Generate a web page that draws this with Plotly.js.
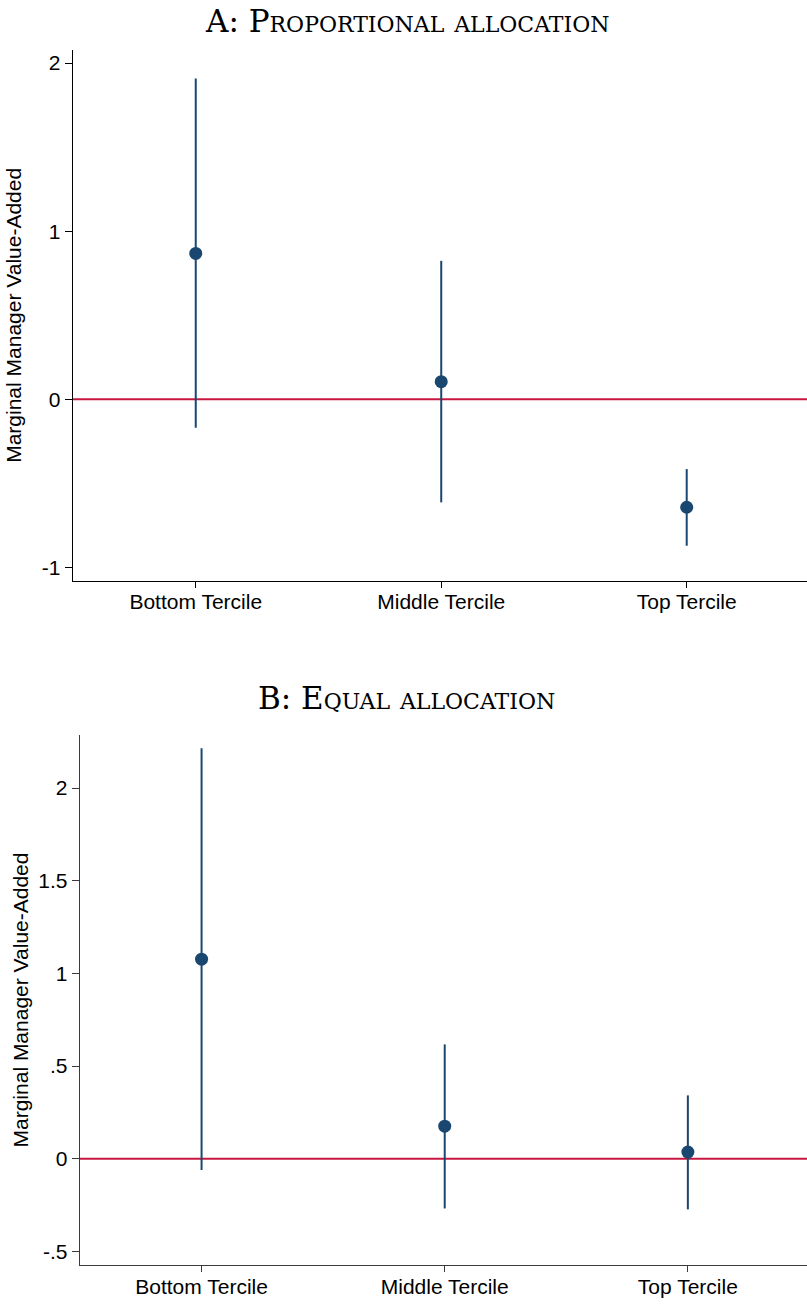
<!DOCTYPE html>
<html>
<head>
<meta charset="utf-8">
<script src="https://cdn.plot.ly/plotly-3.0.1.min.js"></script>
<style>html,body{margin:0;padding:0;background:#fff;}</style>
</head>
<body>
<div id="chart" style="width:807px;height:1305px;"></div>
<script>
// ---- data ----
const categories = ['Bottom Tercile', 'Middle Tercile', 'Top Tercile'];
const propEst = [0.868, 0.105, -0.642];
const propLo  = [-0.169, -0.613, -0.871];
const propHi  = [1.909, 0.824, -0.415];
const eqEst = [1.077, 0.176, 0.036];
const eqLo  = [-0.061, -0.268, -0.273];
const eqHi  = [2.214, 0.617, 0.342];
const propTickVals = [-1, 0, 1, 2];
const propTickText = ['-1', '0', '1', '2'];
const eqTickVals = [-0.5, 0, 0.5, 1, 1.5, 2];
const eqTickText = ['-.5', '0', '.5', '1', '1.5', '2'];
const panelTitles = ['A: Proportional allocation', 'B: Equal allocation'];
const yTitle = 'Marginal Manager Value-Added';

// ---- styles ----
const navy = '#1a476f';
const red = '#c8173f';
const sans = 'Liberation Sans, Arial, sans-serif';
const serif = 'DejaVu Serif, serif';

function ciTrace(est, lo, hi, xa, ya) {
  return {
    type: 'scatter', mode: 'markers',
    x: categories, y: est, xaxis: xa, yaxis: ya,
    marker: {color: navy, size: 13, symbol: 'circle'},
    error_y: {
      type: 'data', symmetric: false,
      array: hi.map((h, i) => h - est[i]),
      arrayminus: lo.map((l, i) => est[i] - l),
      color: navy, thickness: 2, width: 0
    },
    hoverinfo: 'skip'
  };
}

const data = [
  ciTrace(propEst, propLo, propHi, 'x', 'y'),
  ciTrace(eqEst, eqLo, eqHi, 'x2', 'y2')
];

function xAxis(domain, anchor, lineColor) {
  return {
    domain: domain, anchor: anchor, type: 'category', range: [-0.5, 2.49],
    showline: true, linecolor: lineColor, linewidth: 1.3, mirror: false,
    ticks: 'outside', ticklen: 6, tickcolor: lineColor, tickwidth: 1,
    ticklabelstandoff: -4,
    showgrid: false, zeroline: false, fixedrange: true,
    tickfont: {family: sans, size: 21, color: '#000'}
  };
}
function yAxis(domain, anchor, range, tv, tt, lineColor) {
  return {
    domain: domain, anchor: anchor, range: range,
    tickmode: 'array', tickvals: tv, ticktext: tt,
    showline: true, linecolor: lineColor, linewidth: 1.3,
    ticks: 'outside', ticklen: 7, tickcolor: lineColor, tickwidth: 1,
    showgrid: false, zeroline: false, fixedrange: true,
    tickfont: {family: sans, size: 21, color: '#000'},
    title: {text: yTitle, font: {family: sans, size: 21, color: '#000'}}
  };
}

const layout = {
  width: 807, height: 1305,
  margin: {l: 73, r: 0, t: 50, b: 40},
  paper_bgcolor: '#fff', plot_bgcolor: '#fff',
  showlegend: false,
  xaxis: xAxis([0, 1], 'y', '#000'),
  yaxis: yAxis([0.5632, 1], 'x', [-1.079, 2.078], propTickVals, propTickText, '#000'),
  xaxis2: xAxis([7 / 734, 1], 'y2', '#3a3a3a'),
  yaxis2: yAxis([0, 0.4362], 'x2', [-0.573, 2.286], eqTickVals, eqTickText, '#3a3a3a'),
  shapes: [
    {type: 'line', xref: 'x domain', yref: 'y', x0: 0, x1: 1, y0: 0, y1: 0,
     line: {color: red, width: 2}, layer: 'below'},
    {type: 'line', xref: 'x2 domain', yref: 'y2', x0: 0, x1: 1, y0: 0, y1: 0,
     line: {color: red, width: 2}, layer: 'below'}
  ],
  annotations: [
    {text: panelTitles[0], xref: 'paper', yref: 'paper', x: 0.455, y: 1.0405,
     xanchor: 'center', yanchor: 'top', showarrow: false,
     font: {family: serif, size: 31, color: '#000', variant: 'small-caps'}},
    {text: panelTitles[1], xref: 'paper', yref: 'paper', x: 0.455, y: 0.4835,
     xanchor: 'center', yanchor: 'top', showarrow: false,
     font: {family: serif, size: 31, color: '#000', variant: 'small-caps'}}
  ]
};

Plotly.newPlot('chart', data, layout, {displayModeBar: false, staticPlot: true});
</script>
</body>
</html>
